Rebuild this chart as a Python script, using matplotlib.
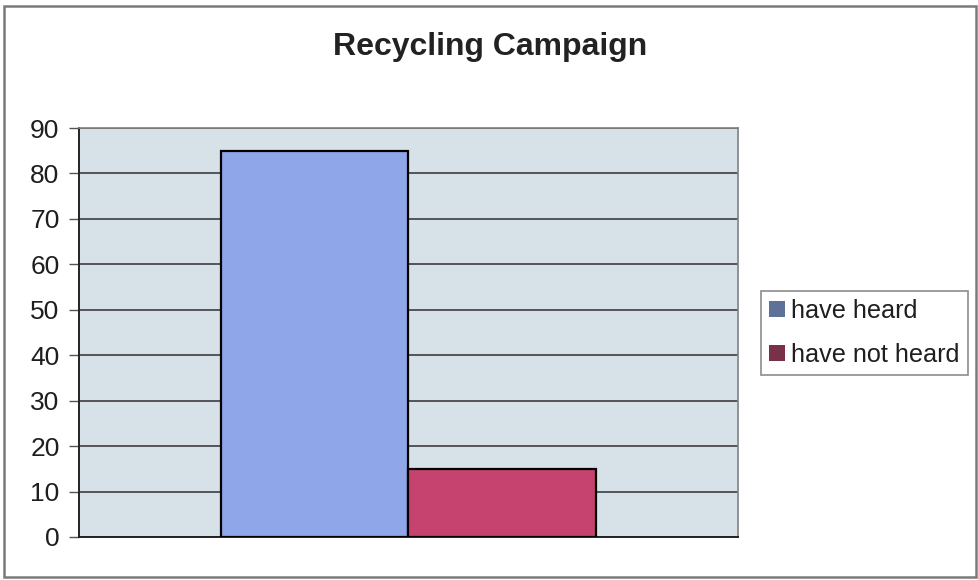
import matplotlib.pyplot as plt
from matplotlib.patches import Patch, Rectangle

plt.rcParams['font.family'] = ['Liberation Sans', 'DejaVu Sans']

title = "Recycling Campaign"
series = ["have heard", "have not heard"]
values = [85, 15]
yticks = [0, 10, 20, 30, 40, 50, 60, 70, 80, 90]

bar_colors = ["#8fa7e9", "#c6436f"]
legend_colors = ["#5e7198", "#7b3049"]

W, H = 979, 580
fig = plt.figure(figsize=(W / 100, H / 100), dpi=100)
fig.patch.set_facecolor("white")

# plot area, placed in pixel terms
ax = fig.add_axes([79 / W, (H - 537) / H, 659 / W, 409 / H])
ax.set_facecolor("#d7e1e8")

width = 0.285
center = 0.5
offsets = [-width / 2, width / 2]
for val, off, col in zip(values, offsets, bar_colors):
    ax.bar(center + off, val, width=width, color=col, edgecolor="black",
           linewidth=1.6, zorder=3)

ax.set_xlim(0, 1)
ax.set_ylim(0, 90)
ax.set_yticks(yticks)
ax.set_xticks([])
ax.yaxis.grid(True, color="#4a4a4a", linewidth=1.3, zorder=1)
ax.set_axisbelow(True)
ax.tick_params(axis="y", length=7, width=1, color="#555555", pad=7,
               labelsize=19, labelcolor="#1e1e1e")

for side in ["top", "right"]:
    ax.spines[side].set_color("#808080")
    ax.spines[side].set_linewidth(1.2)
ax.spines["left"].set_color("#222222")
ax.spines["left"].set_linewidth(1.4)
ax.spines["bottom"].set_color("#222222")
ax.spines["bottom"].set_linewidth(1.4)

fig.text(490 / W, (H - 47) / H, title, ha="center", va="center",
         fontsize=23, fontweight="bold", color="#222222")

handles = [Patch(facecolor=c, edgecolor="none", label=s)
           for c, s in zip(legend_colors, series)]
leg = fig.legend(handles=handles, loc="center left",
                 bbox_to_anchor=(761 / W, (H - 333) / H),
                 fontsize=18.2, frameon=True, fancybox=False,
                 edgecolor="#707070", handlelength=0.62, handleheight=0.62,
                 handletextpad=0.25, borderpad=0.32, labelspacing=0.8,
                 borderaxespad=0)
leg.get_frame().set_linewidth(1.2)
for t in leg.get_texts():
    t.set_color("#1e1e1e")

# outer chart border
fig.patches.append(Rectangle((4 / W, 3 / H), 972 / W, 571 / H,
                             transform=fig.transFigure, fill=False,
                             edgecolor="#7a7a7a", linewidth=1.8))

fig.savefig("out.png", dpi=100)
